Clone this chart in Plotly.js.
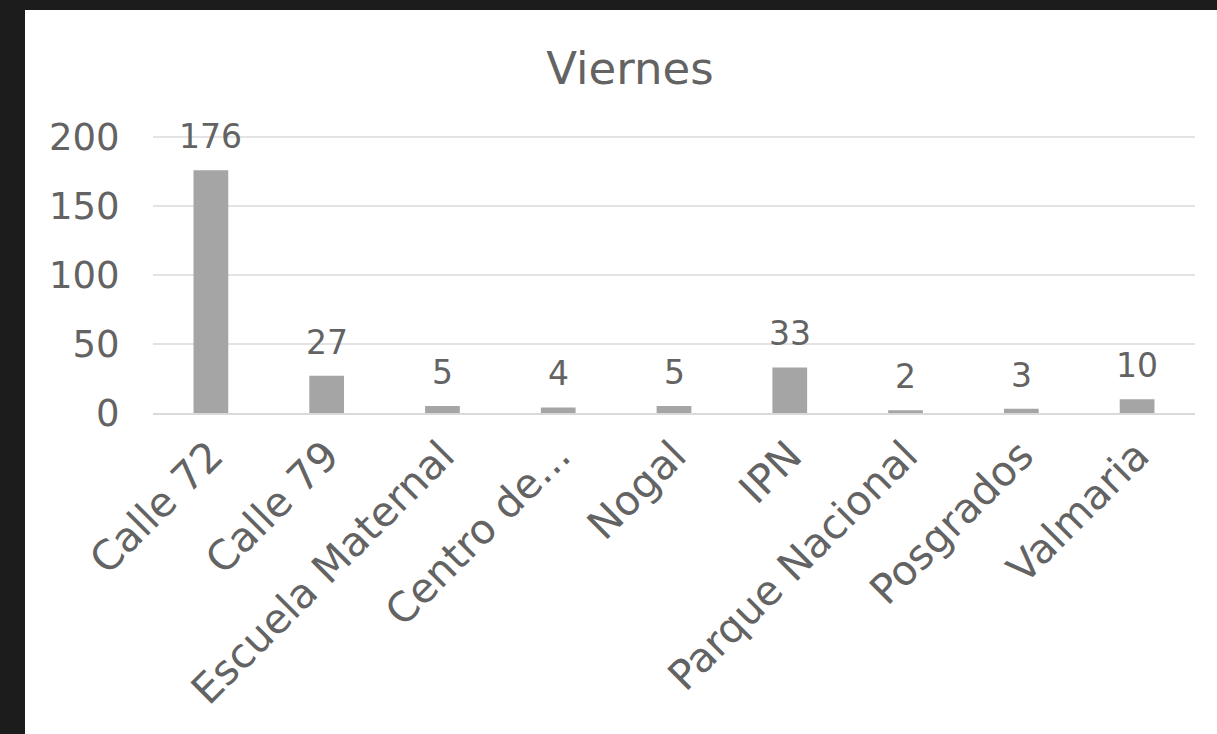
<!DOCTYPE html>
<html><head><meta charset="utf-8">
<script src="https://cdn.plot.ly/plotly-3.0.1.min.js"></script>
<style>
html,body{margin:0;padding:0;background:#1c1c1c;width:1217px;height:734px;overflow:hidden;}
#chart{position:absolute;left:25px;top:10px;width:1192px;height:724px;}
</style></head>
<body><div id="chart"></div>
<script>
const categories = ["Calle 72","Calle 79","Escuela Maternal","Centro de...","Nogal","IPN","Parque Nacional","Posgrados","Valmaria"];
const values = [176,27,5,4,5,33,2,3,10];
const chartTitle = "Viernes";
const yTicks = [0,50,100,150,200];

const fontFam = "'DejaVu Sans', sans-serif";
const txt = "#636363";

const annotations = categories.map((c,i)=>({
  x:c, y:values[i], xref:'x', yref:'y', text:String(values[i]),
  showarrow:false, yanchor:'bottom', yshift:12,
  font:{family:fontFam,size:33,color:txt}
}));

Plotly.newPlot('chart',[{
  type:'bar', x:categories, y:values,
  marker:{color:'#a5a5a5'}, hoverinfo:'none'
}],{
  width:1192, height:724,
  margin:{l:128,r:22,t:123,b:321},
  paper_bgcolor:'#ffffff', plot_bgcolor:'#ffffff',
  bargap:0.7,
  showlegend:false,
  title:{text:chartTitle, x:0.5075, xanchor:'center', y:0.92, yanchor:'middle',
    font:{family:fontFam,size:45,color:txt}},
  xaxis:{type:'category', tickangle:-45, showgrid:false, showline:true,
    linecolor:'#d9d9d9', linewidth:2, ticks:'',
    tickfont:{family:fontFam,size:41,color:txt}},
  yaxis:{range:[0,203], tickvals:yTicks, showgrid:true, gridcolor:'#e3e3e3', gridwidth:2,
    zeroline:false, showline:false, ticks:'outside', ticklen:25, tickcolor:'rgba(0,0,0,0)',
    tickfont:{family:fontFam,size:37,color:txt}},
  annotations:annotations
},{staticPlot:true});
</script></body></html>
